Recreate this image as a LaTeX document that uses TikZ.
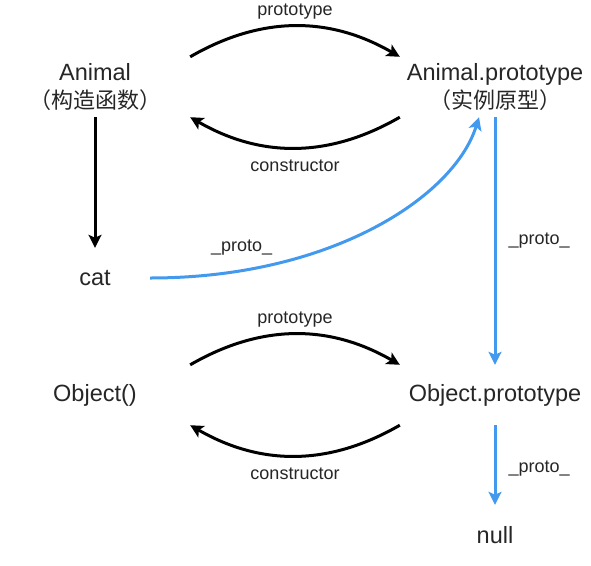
\documentclass[tikz,border=0pt]{standalone}
\usepackage{fontspec}
\setmainfont{Liberation Sans}
\newfontfamily\cjk{Noto Sans CJK SC}
\usetikzlibrary{arrows.meta}
\definecolor{protoblue}{HTML}{4399EE}
\definecolor{tinta}{HTML}{000000}

\begin{document}
\begin{tikzpicture}[
  x=1pt, y=1pt,
  obj/.style={font=\fontsize{23.5}{28}\selectfont, align=center, inner sep=0pt, minimum width=190pt, minimum height=60pt, text=black!85},
  lbl/.style={font=\fontsize{18}{20}\selectfont, inner sep=2pt, text=black!85},
  seta/.style={-{Stealth[length=13pt, width=13pt, inset=3pt]}, line width=3pt, draw=tinta},
  setaproto/.style={seta, draw=protoblue}]
\useasboundingbox (0,0) rectangle (591,-565);
\node[obj] (animal) at (95,-87) {Animal\\{\cjk\fontsize{22}{28}\selectfont （构造函数）}};
\node[obj] (aproto) at (495,-87) {Animal.prototype\\{\cjk\fontsize{22}{28}\selectfont （实例原型）}};
\node[obj, minimum width=110pt] (cat) at (95,-278) {cat};
\node[obj] (object) at (95,-395) {Object()};
\node[obj] (oproto) at (495,-395) {Object.prototype};
\node[obj] (null) at (495,-535) {null};
% constructor / prototype
\draw[seta] (animal.north east) to[bend left=30] node[lbl, midway, above=3pt] {prototype} (aproto.north west);
\draw[seta] (aproto.south west) to[bend left=30] node[lbl, midway, below=9pt] {constructor} (animal.south east);
\draw[seta] (object.north east) to[bend left=30] node[lbl, midway, above=3pt] {prototype} (oproto.north west);
\draw[seta] (oproto.south west) to[bend left=30] node[lbl, midway, below=9pt] {constructor} (object.south east);
\draw[seta] (animal.south) -- (cat.north);
% _proto_ chain
\draw[setaproto] (cat.east) .. controls +(180,0) and +(-25,-80) .. node[lbl, pos=0.18, above=12pt] {\_proto\_} ([xshift=-16pt]aproto.south);
\draw[setaproto] (aproto.south) -- node[lbl, right=10pt] {\_proto\_} (oproto.north);
\draw[setaproto] (oproto.south) -- node[lbl, right=10pt, yshift=-4pt] {\_proto\_} (null.north);
\end{tikzpicture}
\end{document}
